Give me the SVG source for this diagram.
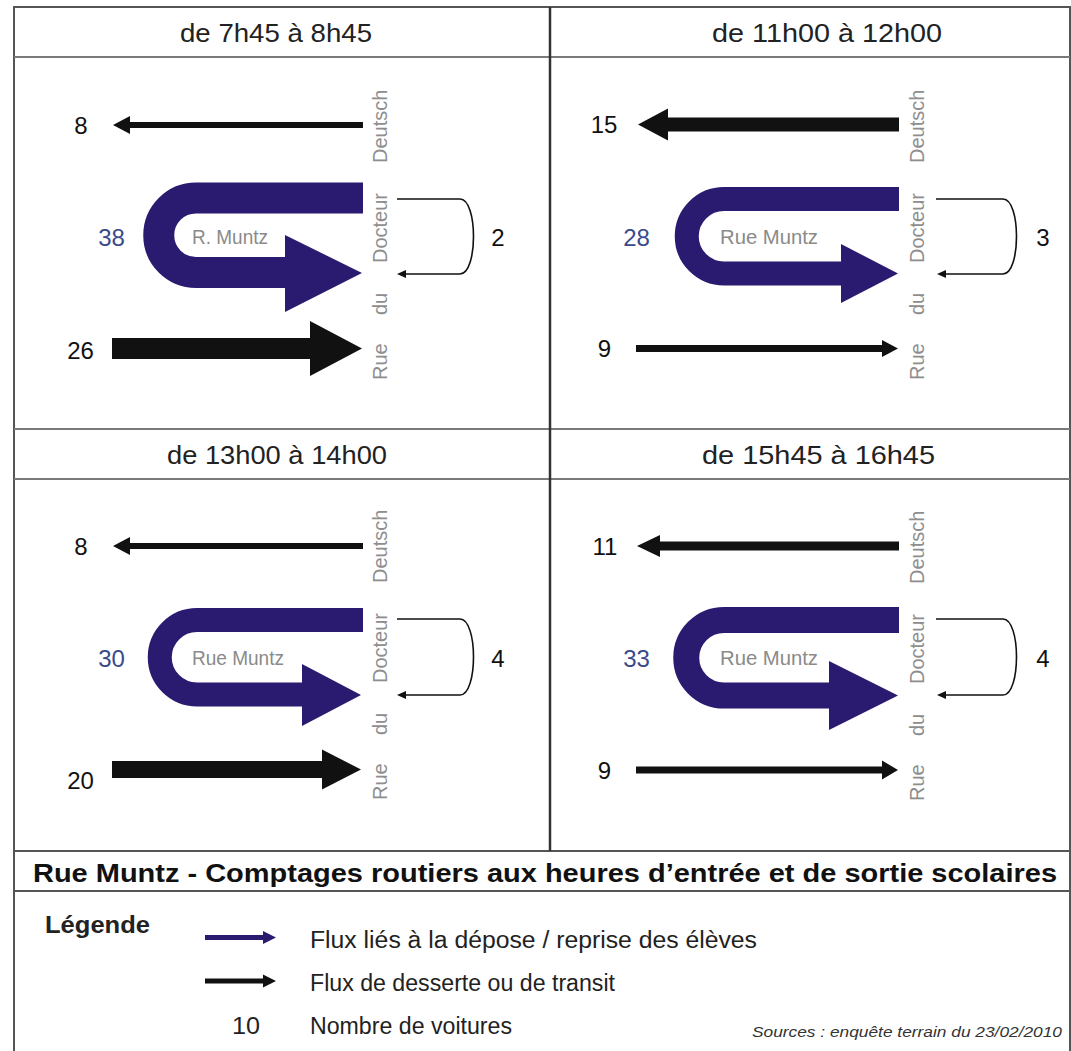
<svg xmlns="http://www.w3.org/2000/svg" width="1071" height="1051" viewBox="0 0 1071 1051">
<style>
.frame{stroke:#555;stroke-width:2;fill:none}
.hl{stroke:#7a7a7a;stroke-width:2;fill:none}
.hd{font-family:"Liberation Sans",Arial,sans-serif;font-size:25px;fill:#222}
.num{font-family:"Liberation Sans",Arial,sans-serif;font-size:24px;fill:#111;text-anchor:middle}
.bnum{font-family:"Liberation Sans",Arial,sans-serif;font-size:24px;fill:#3a4a8a;text-anchor:middle}
.gray{font-family:"Liberation Sans",Arial,sans-serif;font-size:20px;fill:#8a8a8a}
.street{font-family:"Liberation Sans",Arial,sans-serif;font-size:20px;fill:#8e8e8e}
.blk{fill:#111}
.uturn{fill:none;stroke:#2a1a70}
.uhead{fill:#2a1a70}
.brk{fill:none;stroke:#111;stroke-width:1.6}
.leg{font-family:"Liberation Sans",Arial,sans-serif;font-size:23px;fill:#222}
</style>
<rect x="0" y="0" width="1071" height="1051" fill="#fff"/>
<g id="frame">
<path class="frame" d="M14,1051 V7 H1070 V1051"/>
<line class="hl" x1="14" y1="57" x2="1070" y2="57"/>
<line class="hl" x1="14" y1="429" x2="1070" y2="429"/>
<line class="hl" x1="14" y1="479" x2="1070" y2="479"/>
<line class="frame" x1="14" y1="851" x2="1070" y2="851"/>
<line class="frame" x1="14" y1="891" x2="1070" y2="891" stroke-width="2.5"/>
<line x1="550" y1="7" x2="550" y2="851" stroke="#333" stroke-width="2.5"/>
</g>

<g id="panel-tl">
<text class="hd" x="180" y="42" textLength="192" lengthAdjust="spacingAndGlyphs">de 7h45 à 8h45</text>
<text class="street" transform="translate(387,380) rotate(-90)"><tspan x="0">Rue</tspan><tspan x="65">du</tspan><tspan x="117">Docteur</tspan><tspan x="217">Deutsch</tspan></text>
</g>
<g id="panel-tr">
<text class="hd" x="712" y="42" textLength="230" lengthAdjust="spacingAndGlyphs">de 11h00 à 12h00</text>
<text class="street" transform="translate(924,380) rotate(-90)"><tspan x="0">Rue</tspan><tspan x="65">du</tspan><tspan x="117">Docteur</tspan><tspan x="217">Deutsch</tspan></text>
</g>
<g id="panel-bl">
<text class="hd" x="167" y="464" textLength="220" lengthAdjust="spacingAndGlyphs">de 13h00 à 14h00</text>
<text class="street" transform="translate(387,800) rotate(-90)"><tspan x="0">Rue</tspan><tspan x="65">du</tspan><tspan x="117">Docteur</tspan><tspan x="217">Deutsch</tspan></text>
</g>
<g id="panel-br">
<text class="hd" x="702" y="464" textLength="233" lengthAdjust="spacingAndGlyphs">de 15h45 à 16h45</text>
<text class="street" transform="translate(924,801) rotate(-90)"><tspan x="0">Rue</tspan><tspan x="65">du</tspan><tspan x="117">Docteur</tspan><tspan x="217">Deutsch</tspan></text>
</g>

<g id="connectors">
<!-- TL -->
<polygon class="blk" points="363,122 130,122 130,116 113,125 130,134 130,128 363,128"/>
<polygon class="blk" points="112,338 310,338 310,321 362,348.5 310,376 310,359 112,359"/>
<path class="uturn" stroke-width="31" d="M363,198 H196 A37.25,37.25 0 0 0 196,272.5 H290"/>
<polygon class="uhead" points="285,235 362,273 285,312"/>
<path class="brk" d="M397,199 H460 C478,199 478,274 460,274 H404"/>
<polygon class="blk" points="397,274 406,270 406,278"/>
<!-- TR -->
<polygon class="blk" points="899,117.5 668,117.5 668,108.5 638,124.5 668,140.5 668,131.5 899,131.5"/>
<path class="uturn" stroke-width="24" d="M899,199 H724 A37.25,37.25 0 0 0 724,273.5 H845"/>
<polygon class="uhead" points="841,244 898,273.5 841,303"/>
<path class="brk" d="M936,199 H1003 C1021,199 1021,274 1003,274 H944"/>
<polygon class="blk" points="937,274 946,270 946,278"/>
<polygon class="blk" points="636,345 882,345 882,340 898,348.5 882,357 882,352 636,352"/>
<!-- BL -->
<polygon class="blk" points="363,543 130,543 130,537 113,546 130,555 130,549 363,549"/>
<path class="uturn" stroke-width="24" d="M363,620 H197 A37.25,37.25 0 0 0 197,694.5 H305"/>
<polygon class="uhead" points="302,664 361,695 302,726"/>
<path class="brk" d="M397,619 H460 C478,619 478,695 460,695 H404"/>
<polygon class="blk" points="397,695 406,691 406,699"/>
<polygon class="blk" points="112,761 322,761 322,749.5 361,769.5 322,789.5 322,778 112,778"/>
<!-- BR -->
<polygon class="blk" points="899,541.5 660,541.5 660,535 637,546 660,557 660,550.5 899,550.5"/>
<path class="uturn" stroke-width="26" d="M899,620 H724 A37.75,37.75 0 0 0 724,695.5 H833"/>
<polygon class="uhead" points="829,661 898,695.5 829,730"/>
<path class="brk" d="M936,619 H1003 C1021,619 1021,695 1003,695 H944"/>
<polygon class="blk" points="937,695 946,691 946,699"/>
<polygon class="blk" points="636,766.5 882,766.5 882,760.5 898,770 882,779.5 882,773.5 636,773.5"/>
</g>

<g id="labels">
<text class="num" x="81" y="133.5">8</text>
<text class="num" x="80.5" y="358.5">26</text>
<text class="bnum" x="111.5" y="245.5">38</text>
<text class="num" x="498" y="245.5">2</text>
<text class="gray" x="192" y="244" textLength="76" lengthAdjust="spacingAndGlyphs">R. Muntz</text>

<text class="num" x="604" y="133">15</text>
<text class="bnum" x="636.5" y="245.5">28</text>
<text class="num" x="1043" y="245.5">3</text>
<text class="num" x="604.5" y="357">9</text>
<text class="gray" x="720" y="244" textLength="98" lengthAdjust="spacingAndGlyphs">Rue Muntz</text>

<text class="num" x="81" y="554.5">8</text>
<text class="bnum" x="111.5" y="666.5">30</text>
<text class="num" x="498" y="666.5">4</text>
<text class="num" x="80.5" y="788.5">20</text>
<text class="gray" x="192" y="665" textLength="92" lengthAdjust="spacingAndGlyphs">Rue Muntz</text>

<text class="num" x="605" y="554.5">11</text>
<text class="bnum" x="636.5" y="666.5">33</text>
<text class="num" x="1043" y="666.5">4</text>
<text class="num" x="604.5" y="779">9</text>
<text class="gray" x="720" y="665" textLength="98" lengthAdjust="spacingAndGlyphs">Rue Muntz</text>
</g>

<g id="title">
<text x="33" y="882" font-family="Liberation Sans,Arial,sans-serif" font-size="26" font-weight="bold" fill="#111" textLength="1024" lengthAdjust="spacingAndGlyphs">Rue Muntz - Comptages routiers aux heures d’entrée et de sortie scolaires</text>
</g>

<g id="legend">
<text x="45" y="933" font-family="Liberation Sans,Arial,sans-serif" font-size="23" font-weight="bold" fill="#222" textLength="105" lengthAdjust="spacingAndGlyphs">Légende</text>
<polygon fill="#2a1a70" points="205,935 263,935 263,931 276,937.5 263,944 263,940 205,940"/>
<text class="leg" x="310" y="948" textLength="447" lengthAdjust="spacingAndGlyphs">Flux liés à la dépose / reprise des élèves</text>
<polygon fill="#111" points="205,978.5 263,978.5 263,974.5 276,981 263,987.5 263,983.5 205,983.5"/>
<text class="leg" x="310" y="991" textLength="305" lengthAdjust="spacingAndGlyphs">Flux de desserte ou de transit</text>
<text class="leg" x="246" y="1034" text-anchor="middle" font-size="25" textLength="28" lengthAdjust="spacingAndGlyphs">10</text>
<text class="leg" x="310" y="1034" textLength="202" lengthAdjust="spacingAndGlyphs">Nombre de voitures</text>
<text x="752" y="1037" font-family="Liberation Sans,Arial,sans-serif" font-size="15" font-style="italic" fill="#333" textLength="310" lengthAdjust="spacingAndGlyphs">Sources : enquête terrain du 23/02/2010</text>
</g>
</svg>
